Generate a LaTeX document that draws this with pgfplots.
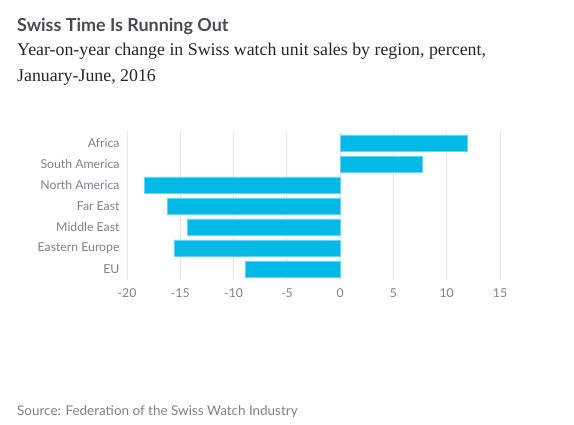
\documentclass[border=0pt]{standalone}
\usepackage{pgfplots}
\pgfplotsset{compat=1.18}
\usepackage{fontspec}
\setmainfont{Lato}
\newfontfamily\serif{Liberation Serif}
\definecolor{barcol}{HTML}{00B9E6}
\definecolor{titlecol}{HTML}{4A4A55}
\definecolor{labcol}{HTML}{808090}
\definecolor{gridcol}{HTML}{E6E6E6}
\begin{document}
\begin{tikzpicture}[x=1bp,y=1bp]
\path[use as bounding box] (0,0) rectangle (574,424);
\node[anchor=base west, inner sep=0, text=titlecol, font=\fontsize{18}{20}\selectfont\bfseries] at (17,392) {Swiss Time Is Running Out};
\node[anchor=base west, inner sep=0, text=black!85, font=\fontsize{17.9}{20}\selectfont\serif] at (17,369) {Year-on-year change in Swiss watch unit sales by region, percent,};
\node[anchor=base west, inner sep=0, text=black!85, font=\fontsize{17.9}{20}\selectfont\serif] at (17,343) {January-June, 2016};
\node[anchor=base west, inner sep=0, text=labcol, font=\fontsize{13.5}{15}\selectfont] at (17,9) {Source: Federation of the Swiss Watch Industry};
\begin{axis}[
  at={(127bp,144bp)}, anchor=south west,
  scale only axis, width=373bp, height=149bp,
  xmin=-20, xmax=15, ymin=-0.524, ymax=6.571,
  xbar, bar width=16bp,
  axis line style={draw=none},
  xtick={-20,-15,...,15},
  ytick={0,1,2,3,4,5,6},
  yticklabels={EU,Eastern Europe,Middle East,Far East,North America,South America,Africa},
  major tick length=0pt,
  xmajorgrids, grid style={gridcol, line width=0.8pt},
  ymajorgrids=false,
  tick label style={text=labcol, font=\fontsize{12.3}{14}\selectfont},
  /pgf/number format/assume math mode=true,
  xticklabel style={yshift=-5bp},
  yticklabel style={xshift=-4bp},
]
\addplot[fill=barcol, draw=barcol!60!white, line width=0.6pt] coordinates {
(-8.9,0) (-15.6,1) (-14.3,2) (-16.2,3) (-18.4,4) (7.7,5) (11.9,6)
};
\end{axis}
\end{tikzpicture}
\end{document}
